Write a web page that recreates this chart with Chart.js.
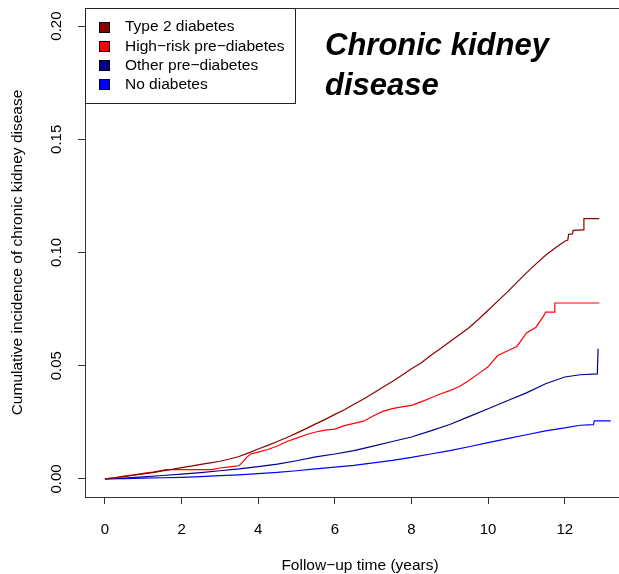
<!DOCTYPE html>
<html>
<head>
<meta charset="utf-8">
<script src="https://cdn.jsdelivr.net/npm/chart.js@4.4.1/dist/chart.umd.min.js"></script>
<style>
  html, body { margin: 0; padding: 0; background: #fff; overflow: hidden; }
  canvas { display: block; }
</style>
</head>
<body>
<canvas id="chart" width="630" height="574"></canvas>
<script>
// axis ticks
const yearTicks = [0, 2, 4, 6, 8, 10, 12];
const incidenceTicks = [0, 0.05, 0.10, 0.15, 0.20];

const groupNames = ['Type 2 diabetes', 'High\u2212risk pre\u2212diabetes', 'Other pre\u2212diabetes', 'No diabetes'];
const groupColors = ['#8b0000', '#ff0000', '#00008b', '#0000ff'];

// cumulative incidence curves (time in years, incidence)
const t2dTime = [0, 0.25, 0.5, 0.75, 1, 1.25, 1.5, 1.75, 2, 2.25, 2.5, 2.75, 3, 3.25, 3.5, 3.75, 4, 4.25, 4.5, 4.75,
  5, 5.25, 5.5, 5.75, 6, 6.25, 6.5, 6.75, 7, 7.25, 7.5, 7.75, 8, 8.25, 8.5, 8.75, 9, 9.25, 9.5, 9.75,
  10, 10.25, 10.5, 10.75, 11, 11.25, 11.5, 11.75, 12, 12.08, 12.1, 12.2, 12.22, 12.48, 12.5, 12.9];
const t2dCum = [0, 0.0005, 0.001, 0.0016, 0.0022, 0.0028, 0.0035, 0.0042, 0.0050, 0.0056, 0.0064, 0.0071, 0.0078, 0.0088, 0.0099, 0.0115, 0.0132, 0.0148, 0.0165, 0.0183,
  0.0202, 0.0222, 0.0243, 0.0263, 0.0285, 0.0305, 0.0330, 0.0353, 0.0378, 0.0405, 0.0430, 0.0458, 0.0487, 0.0512, 0.0545, 0.0575, 0.0606, 0.0637, 0.0668, 0.0705,
  0.0745, 0.0785, 0.0825, 0.0868, 0.0910, 0.0950, 0.0988, 0.1020, 0.1050, 0.1055, 0.1080, 0.1082, 0.1098, 0.1100, 0.1150, 0.1150];

const highRiskTime = [0, 0.25, 0.5, 0.75, 1, 1.25, 1.5, 1.6, 2.8, 3.0, 3.25, 3.5, 3.6, 3.7, 3.8, 4, 4.25, 4.5, 4.75,
  5, 5.25, 5.5, 5.75, 6, 6.25, 6.5, 6.75, 7, 7.25, 7.5, 7.75, 8, 8.25, 8.5, 8.75, 9, 9.25, 9.5, 9.75,
  10, 10.25, 10.5, 10.75, 11, 11.25, 11.45, 11.5, 11.72, 11.74, 12.9];
const highRiskCum = [0, 0.0005, 0.0012, 0.0018, 0.0024, 0.0030, 0.0038, 0.0041, 0.0041, 0.0048, 0.0053, 0.0058, 0.0075, 0.0095, 0.0110, 0.0118, 0.0130, 0.0145, 0.0165,
  0.0180, 0.0195, 0.0207, 0.0215, 0.0220, 0.0235, 0.0245, 0.0255, 0.0278, 0.0298, 0.0310, 0.0318, 0.0325, 0.0340, 0.0357, 0.0375, 0.0390, 0.0408, 0.0435, 0.0465,
  0.0495, 0.0545, 0.0565, 0.0585, 0.0645, 0.0670, 0.0720, 0.0737, 0.0737, 0.0777, 0.0777];

const otherPreTime = [0, 0.5, 1, 1.5, 2, 2.5, 3, 3.5, 4, 4.5, 5, 5.5, 6, 6.5, 7, 7.5, 8, 8.5, 9, 9.5,
  10, 10.5, 11, 11.5, 12, 12.4, 12.85, 12.87];
const otherPreCum = [0, 0.0004, 0.0009, 0.0015, 0.0021, 0.0028, 0.0036, 0.0044, 0.0054, 0.0065, 0.0080, 0.0097, 0.0110, 0.0125, 0.0145, 0.0165, 0.0185, 0.0212, 0.0240, 0.0275,
  0.0310, 0.0345, 0.0380, 0.0420, 0.0450, 0.0460, 0.0464, 0.0575];

const noDiabTime = [0, 0.5, 1, 1.5, 2, 2.5, 3, 3.5, 4, 4.5, 5, 5.5, 6, 6.5, 7, 7.5, 8, 8.5, 9, 9.5,
  10, 10.5, 11, 11.5, 12, 12.4, 12.75, 12.77, 13.2];
const noDiabCum = [0, 0.0001, 0.0003, 0.0005, 0.0007, 0.0010, 0.0014, 0.0018, 0.0023, 0.0029, 0.0036, 0.0044, 0.0052, 0.0060, 0.0071, 0.0082, 0.0095, 0.0110, 0.0125, 0.0142,
  0.0160, 0.0178, 0.0195, 0.0212, 0.0225, 0.0237, 0.0240, 0.0256, 0.0256];

const FONT = '"Liberation Sans", Arial, Helvetica, sans-serif';

function toPoints(xs, ys) {
  return xs.map((x, i) => ({ x: x, y: ys[i] }));
}

function curve(idx, xs, ys) {
  return {
    label: groupNames[idx],
    data: toPoints(xs, ys),
    borderColor: groupColors[idx],
    backgroundColor: groupColors[idx],
    borderWidth: 1.2,
    pointRadius: 0,
    fill: false,
    tension: 0
  };
}

// frame, y labels, axis titles, legend and heading
const decorations = {
  id: 'decorations',
  afterDraw(chart) {
    const c = chart.ctx;
    const a = chart.chartArea;
    const ys = chart.scales.y;

    c.save();
    c.strokeStyle = '#333';
    c.lineWidth = 1;
    c.strokeRect(Math.round(a.left) + 0.5, Math.round(a.top) + 0.5, a.right - a.left, a.bottom - a.top);

    c.fillStyle = '#000';
    c.font = '15px ' + FONT;
    c.textAlign = 'center';
    c.textBaseline = 'middle';
    incidenceTicks.forEach(v => {
      c.save();
      c.translate(57, ys.getPixelForValue(v));
      c.rotate(-Math.PI / 2);
      c.fillText(v.toFixed(2), 0, 0);
      c.restore();
    });

    c.font = '15.5px ' + FONT;
    c.save();
    c.translate(18, (a.top + a.bottom) / 2);
    c.rotate(-Math.PI / 2);
    c.fillText('Cumulative incidence of chronic kidney disease', 0, 0);
    c.restore();

    c.fillText('Follow\u2212up time (years)', 360, 566);

    // legend
    const lx = 85, ly = 8, lw = 210, lh = 95;
    c.fillStyle = '#fff';
    c.fillRect(lx, ly, lw, lh);
    c.strokeStyle = '#222';
    c.strokeRect(lx + 0.5, ly + 0.5, lw, lh);
    c.textAlign = 'left';
    chart.data.datasets.forEach((ds, i) => {
      const cy = 27 + i * 19.3;
      c.fillStyle = ds.borderColor;
      c.fillRect(99, Math.round(cy - 5.5), 11, 11);
      c.strokeStyle = '#000';
      c.strokeRect(99.5, Math.round(cy - 5.5) + 0.5, 10, 10);
      c.fillStyle = '#000';
      c.fillText(ds.label, 125, cy);
    });

    c.font = 'italic bold 31px ' + FONT;
    c.textBaseline = 'alphabetic';
    c.fillText('Chronic kidney', 325, 55);
    c.fillText('disease', 325, 95);
    c.restore();
  }
};

const ctx = document.getElementById('chart').getContext('2d');

const chart = new Chart(ctx, {
  type: 'line',
  data: {
    datasets: [
      curve(0, t2dTime, t2dCum),
      curve(1, highRiskTime, highRiskCum),
      curve(2, otherPreTime, otherPreCum),
      curve(3, noDiabTime, noDiabCum)
    ]
  },
  options: {
    responsive: false,
    animation: false,
    layout: { padding: { top: 8, right: 7, left: 0, bottom: 0 } },
    plugins: {
      legend: { display: false },
      tooltip: { enabled: false }
    },
    scales: {
      x: {
        type: 'linear',
        min: -0.52,
        max: 13.52,
        afterBuildTicks: s => { s.ticks = yearTicks.map(v => ({ value: v })); },
        afterFit: s => { s.height = 77; },
        ticks: {
          color: '#000',
          font: { family: FONT, size: 15 },
          padding: 17,
          maxRotation: 0,
          autoSkip: false
        },
        grid: { drawOnChartArea: false, drawTicks: true, tickLength: 7, color: '#333' },
        border: { display: true, color: '#333' }
      },
      y: {
        min: -0.008,
        max: 0.208,
        afterBuildTicks: s => { s.ticks = incidenceTicks.map(v => ({ value: v })); },
        afterFit: s => { s.width = 85; },
        ticks: { display: false },
        grid: { drawOnChartArea: false, drawTicks: true, tickLength: 7, color: '#333' },
        border: { display: true, color: '#333' }
      }
    }
  },
  plugins: [decorations]
});
</script>
</body>
</html>
